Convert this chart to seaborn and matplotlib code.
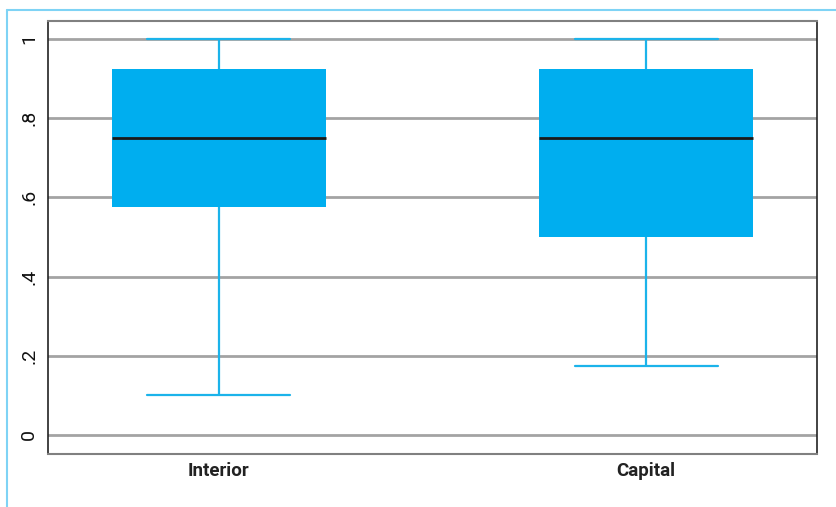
import matplotlib
matplotlib.use("Agg")
import matplotlib.pyplot as plt
from matplotlib.lines import Line2D
import seaborn as sns
import pandas as pd

# Five-number summaries per group (min, Q1, median, Q3, max)
groups = ["Interior", "Capital"]
interior_vals = [0.1, 0.575, 0.75, 0.925, 1.0]
capital_vals = [0.175, 0.5, 0.75, 0.925, 1.0]
y_ticks = [0, 0.2, 0.4, 0.6, 0.8, 1.0]
y_tick_labels = ["0", ".2", ".4", ".6", ".8", "1"]

df = pd.DataFrame({
    "group": [groups[0]] * len(interior_vals) + [groups[1]] * len(capital_vals),
    "value": interior_vals + capital_vals,
})

sns.set_style("white")
plt.rcParams["font.family"] = ["Roboto", "DejaVu Sans"]

box_color = "#00AEEF"
whisk_color = "#1BB3EA"

fig = plt.figure(figsize=(8.36, 5.07), dpi=100)
ax = fig.add_axes([48 / 836, 1 - 454 / 507, (817 - 48) / 836, (454 - 21) / 507])

for y in y_ticks:
    ax.axhline(y, color="#a3a3a3", lw=2, zorder=0)

sns.boxplot(
    data=df, x="group", y="value", order=groups, ax=ax,
    whis=(0, 100), width=0.5, color=box_color, saturation=1,
    showfliers=False, linewidth=0,
    boxprops=dict(facecolor=box_color, edgecolor=box_color, linewidth=0, zorder=2),
    whiskerprops=dict(color=whisk_color, linewidth=1.6, zorder=3),
    capprops=dict(color=whisk_color, linewidth=1.6, zorder=3),
    medianprops=dict(color="#1a1a1a", linewidth=2, zorder=4),
    capwidths=0.335,
)

ax.set_xlim(-0.4, 1.4)
ax.set_ylim(-0.048, 1.045)
ax.set_yticks(y_ticks)
ax.set_yticklabels(y_tick_labels, rotation=90, va="center", fontsize=14, color="#111111")
ax.set_xticklabels(groups, fontsize=13.5, fontweight="bold", color="#222222")
ax.tick_params(axis="x", length=0, pad=6)
ax.tick_params(axis="y", length=0, pad=7)
ax.set_xlabel("")
ax.set_ylabel("")

for side in ["left", "right"]:
    ax.spines[side].set_color("#222222")
    ax.spines[side].set_linewidth(1.2)
for side in ["top", "bottom"]:
    ax.spines[side].set_color("#808080")
    ax.spines[side].set_linewidth(1.5)

# Light blue frame lines along the top and left edges of the figure
fig.add_artist(Line2D([7 / 836, 1], [1 - 10 / 507, 1 - 10 / 507],
                      transform=fig.transFigure, color="#7fd3f5", lw=1.5))
fig.add_artist(Line2D([7 / 836, 7 / 836], [0, 1 - 10 / 507],
                      transform=fig.transFigure, color="#7fd3f5", lw=1.5))

fig.savefig("out.png", dpi=100)
